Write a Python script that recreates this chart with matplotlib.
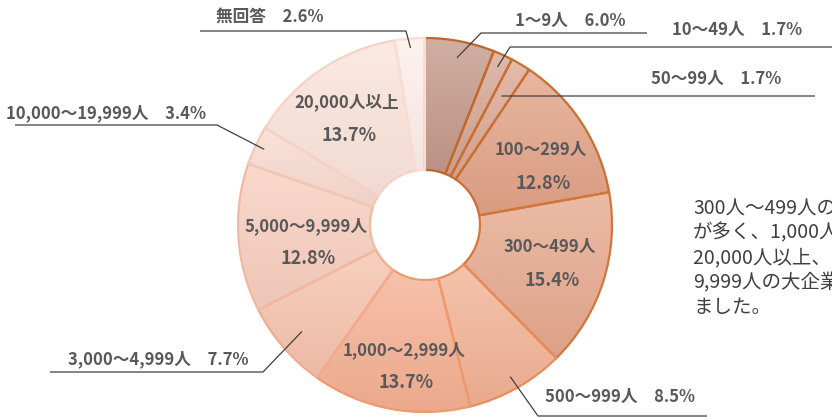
import numpy as np
import matplotlib
matplotlib.use('Agg')
import matplotlib.pyplot as plt
from matplotlib.colors import to_rgb

plt.rcParams['font.family'] = ['Noto Sans CJK JP', 'DejaVu Sans']

# 回答データ（従業員規模）
labels = ['1～9人', '10～49人', '50～99人', '100～299人', '300～499人', '500～999人',
          '1,000～2,999人', '3,000～4,999人', '5,000～9,999人', '10,000～19,999人',
          '20,000人以上', '無回答']
values = [6.0, 1.7, 1.7, 12.8, 15.4, 8.5, 13.7, 7.7, 12.8, 3.4, 13.7, 2.6]
colors = ['#c39888', '#d5a592', '#dca793', '#e2a286', '#e6a88d', '#f2b294',
          '#f5b092', '#f6c2ad', '#f8cebe', '#f9dacf', '#fbe3da', '#fdeeea']
edges = ['#bf6528', '#c26a2c', '#c86f30', '#c96f30', '#d0783a', '#e88c5c',
         '#ee9a6e', '#f1ab8e', '#f2b8a2', '#f4c6b6', '#f5d2c6', '#f8ddd4']

# 内側ラベル（2段）: index -> (x, y)
inside = {3: (541, 150), 4: (550, 247), 6: (404, 350), 8: (306, 226), 10: (347, 102)}
# 外側ラベル: index -> (テキスト位置, 折れ点, 線の終端x, 半径比)
outside = {
    0: ((570, 21), (481, 33), 647, 0.91),
    1: ((737, 30), (510, 47), 832, 0.93),
    2: ((716, 79), (502, 96), 815, 0.80),
    5: ((620, 397), (538, 416), 707, 0.93),
    7: ((158, 359), (263, 372), 50, 0.87),
    9: ((106, 113), (217, 125), 15, 0.95),
    11: ((270, 17), (406, 31), 200, 0.95),
}

comment = ['300人～499人の回答', 'が多く、1,000人～2,999人、',
           '20,000人以上、 5,000～', '9,999人の大企業も見られ', 'ました。']

W, H = 832, 417
cx, cy = 425, 225
R, r_in = 187, 55

fig = plt.figure(figsize=(W / 100, H / 100), dpi=100)
ax = fig.add_axes([0, 0, 1, 1])

wedges, _ = ax.pie(values, center=(cx, H - cy), radius=R, startangle=90,
                   counterclock=False,
                   wedgeprops=dict(width=R - r_in, linewidth=1.6))

for w, c, e in zip(wedges, colors, edges):
    w.set_facecolor('none')
    w.set_edgecolor(e)
    w.set_zorder(3)
    bb = w.get_path().get_extents()
    base = np.array(to_rgb(c))
    top = base + (1 - base) * 0.22
    bot = base * 0.96
    t = np.linspace(0, 1, 64)[:, None, None]
    grad = top * (1 - t) + bot * t
    im = ax.imshow(grad, extent=[bb.x0, bb.x1, bb.y0, bb.y1], aspect='auto',
                   origin='upper', zorder=2, interpolation='bilinear')
    im.set_clip_path(w)

txt = '#595959'
total = sum(values)
cum = 0
mids = []
for v in values:
    mids.append(90 - (cum + v / 2) / total * 360)
    cum += v

for i, (x, y) in inside.items():
    ax.text(x, H - y, labels[i], ha='center', va='center', fontsize=12,
            fontweight='bold', color=txt, zorder=5)
    ax.text(x + 2, H - y - 33, f'{values[i]:.1f}%', ha='center', va='center',
            fontsize=13, fontweight='bold', color=txt, zorder=5)

for i, ((tx, ty), (ex, ey), lx, k) in outside.items():
    a = np.deg2rad(mids[i])
    sx = cx + R * k * np.cos(a)
    sy = cy - R * k * np.sin(a)
    ax.plot([sx, ex, lx], [H - sy, H - ey, H - ey], color='#404040', lw=0.9,
            zorder=4, solid_capstyle='butt')
    ax.text(tx, H - ty, f'{labels[i]}\u3000{values[i]:.1f}%', ha='center',
            va='center', fontsize=12, fontweight='bold', color=txt, zorder=5)

for j, line in enumerate(comment):
    ax.text(693, H - 208 - j * 25, line, ha='left', va='center', fontsize=14,
            color='#404040', zorder=5)

ax.set_xlim(0, W)
ax.set_ylim(0, H)
ax.axis('off')
fig.savefig('out.png', dpi=100)
